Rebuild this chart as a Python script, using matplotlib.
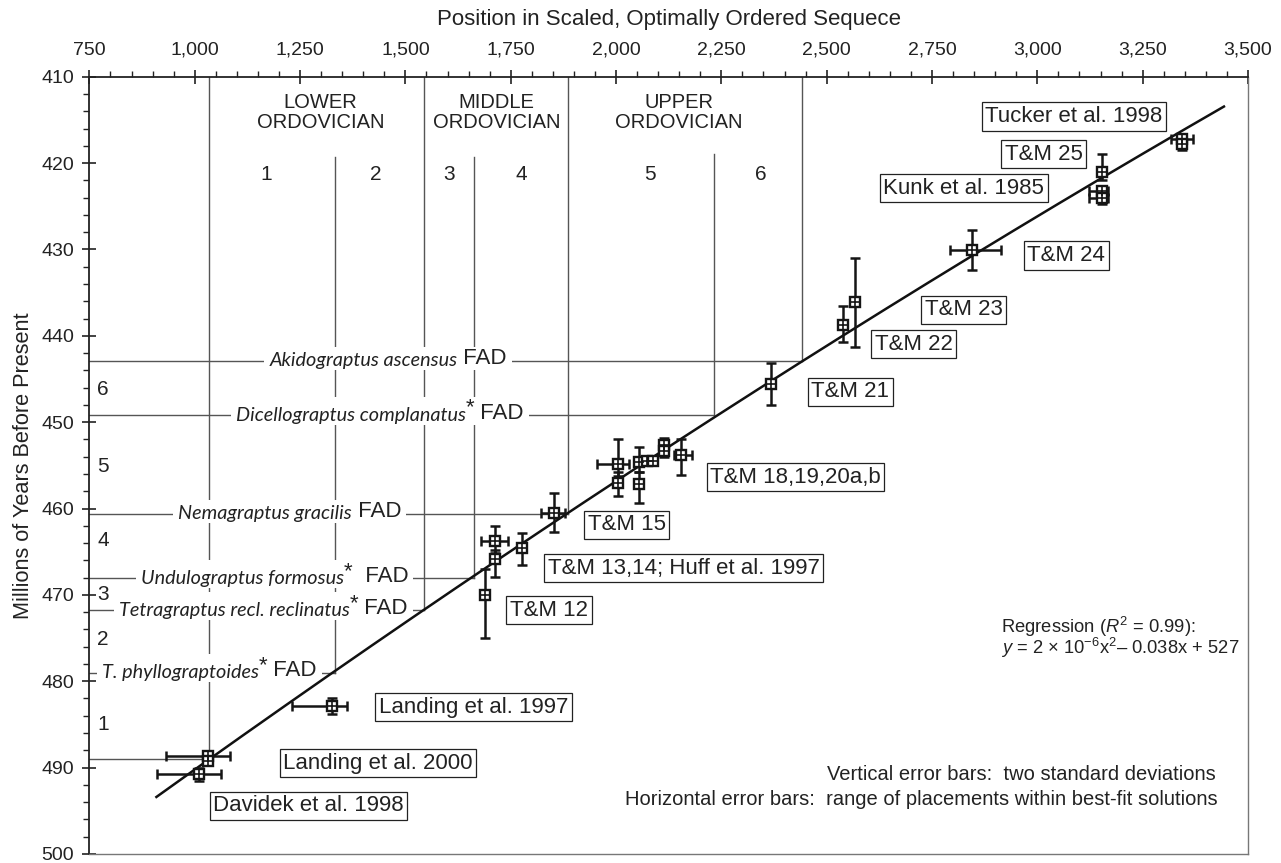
import numpy as np
import matplotlib
matplotlib.use("Agg")
import matplotlib.pyplot as plt
from matplotlib.ticker import MultipleLocator, FuncFormatter
from matplotlib.patches import Rectangle
from matplotlib.transforms import Bbox

plt.rcParams["font.family"] = ["Liberation Sans", "DejaVu Sans"]
plt.rcParams["mathtext.fontset"] = "custom"
plt.rcParams["mathtext.rm"] = "Liberation Sans"
plt.rcParams["mathtext.it"] = "Liberation Sans:italic"

# dated horizons: position in sequence, age (Ma) and error ranges
pt_x = [1011, 1032, 1032, 1327, 1688, 1713, 1713, 1776, 1853, 2004, 2004, 2055, 2055,
        2073, 2088, 2115, 2115, 2154, 2367, 2538, 2567, 2844, 3154, 3153, 3153, 3344, 3344]
pt_y = [490.7, 488.7, 489.2, 482.85, 470.0, 463.8, 465.8, 464.6, 460.5, 454.85, 457.0, 454.6, 457.2,
        454.5, 454.5, 452.6, 453.3, 453.8, 445.6, 438.7, 436.1, 430.1, 421.0, 423.2, 424.0, 417.2, 417.8]
x_lo = [911, 932, 1032, 1230, 1688, 1680, 1713, 1776, 1821, 1954, 2004, 2055, 2055,
        2073, 2088, 2115, 2115, 2138, 2367, 2538, 2567, 2793, 3154, 3122, 3122, 3317, 3344]
x_hi = [1062, 1084, 1032, 1361, 1688, 1744, 1713, 1776, 1878, 2031, 2004, 2055, 2055,
        2073, 2088, 2115, 2115, 2181, 2367, 2538, 2567, 2915, 3154, 3168, 3168, 3370, 3344]
y_lo = [490.0, 488.5, 489.2, 482.0, 467.0, 462.0, 464.8, 462.8, 458.2, 451.9, 455.8, 452.9, 455.8,
        454.5, 454.5, 451.8, 452.8, 452.0, 443.2, 436.6, 431.0, 427.7, 419.0, 422.6, 423.2, 416.6, 417.8]
y_hi = [491.6, 489.4, 489.2, 483.8, 475.0, 465.2, 467.9, 466.5, 462.7, 456.2, 458.5, 455.8, 459.4,
        454.5, 454.5, 453.3, 454.0, 456.1, 448.0, 440.7, 441.3, 432.4, 422.0, 424.0, 424.7, 418.5, 417.8]

# quadratic regression through the dates
reg_coef = [1.36e-6, -0.03747, 526.34]
reg_range = [909, 3443]

# source labels
src_text = ["Tucker et al. 1998", "T&M 25", "Kunk et al. 1985", "T&M 24", "T&M 23", "T&M 22",
            "T&M 21", "T&M 18,19,20a,b", "T&M 15", "T&M 13,14; Huff et al. 1997", "T&M 12",
            "Landing et al. 1997", "Landing et al. 2000", "Davidek et al. 1998"]
src_x = [3087, 3015, 2825, 3069, 2825, 2707, 2556, 2426, 2025, 2161, 1841, 1662, 1435, 1270]
src_y = [414.6, 419.0, 422.9, 430.7, 437.0, 441.0, 446.5, 456.4, 461.9, 466.9, 471.8, 483.0, 489.5, 494.4]

# FAD horizons and stage boundaries
fad_name = ["Akidograptus ascensus", "Dicellograptus complanatus", "Nemagraptus gracilis",
            "Undulograptus formosus", "Tetragraptus recl. reclinatus", "T. phyllograptoides", ""]
fad_star = [False, True, False, True, True, True, False]
fad_gap = [" FAD", " FAD", " FAD", "  FAD", " FAD", " FAD", ""]
fad_age = [442.9, 449.2, 460.6, 468.1, 471.8, 479.0, 489.0]
fad_label_x = [1177, 1097, 960, 872, 820, 779, 0]
bound_x = [2441, 2233, 1887, 1662, 1545, 1333, 1034]
bound_top = [410, 419.0, 410, 419.3, 410, 419.3, 410]

period_text = ["LOWER\nORDOVICIAN", "MIDDLE\nORDOVICIAN", "UPPER\nORDOVICIAN"]
period_x = [1299, 1717, 2150]
stage_top_text = ["1", "2", "3", "4", "5", "6"]
stage_top_x = [1169, 1429, 1604, 1776, 2081, 2344]
stage_side_text = ["6", "5", "4", "3", "2", "1"]
stage_side_y = [446.2, 455.1, 463.7, 470.0, 475.2, 485.0]

ink = "#222222"

fig = plt.figure(figsize=(12.81, 8.63), dpi=100)
ax = fig.add_axes([0.0698, 0.0105, 0.9044, 0.9006])
ax.set_xlim(750, 3500)
ax.set_ylim(500, 410)

ax.xaxis.tick_top()
ax.xaxis.set_label_position("top")
ax.xaxis.set_major_locator(MultipleLocator(250))
ax.xaxis.set_minor_locator(MultipleLocator(50))
ax.xaxis.set_major_formatter(FuncFormatter(lambda v, p: f"{int(v):,}"))
ax.yaxis.set_major_locator(MultipleLocator(10))
ax.yaxis.set_minor_locator(MultipleLocator(2))
ax.tick_params(which="major", direction="inout", length=10, width=1.2, labelsize=14, colors=ink)
ax.tick_params(which="minor", direction="out", length=4, width=1.0, colors=ink)
ax.tick_params(axis="x", which="major", pad=8)
ax.tick_params(axis="y", which="major", pad=6)
for s in ["top", "left"]:
    ax.spines[s].set_color(ink)
    ax.spines[s].set_linewidth(1.3)
for s in ["right", "bottom"]:
    ax.spines[s].set_color("#777777")
    ax.spines[s].set_linewidth(1.0)

ax.set_xlabel("Position in Scaled, Optimally Ordered Sequece", fontsize=16, color=ink)
ax.xaxis.set_label_coords(0.5, 1.066)
ax.set_ylabel("Millions of Years Before Present", fontsize=15.7, color=ink)
ax.yaxis.set_label_coords(-0.048, 0.5)

# boundary lines
for bx, top, age in zip(bound_x, bound_top, fad_age):
    ax.plot([bx, bx], [top, age], color="#555555", lw=1.0, zorder=2)
    ax.plot([750, bx], [age, age], color="#555555", lw=1.0, zorder=2)

# FAD labels built from italic name, star and FAD
groups = []
for name, star, gap, age, lx in zip(fad_name, fad_star, fad_gap, fad_age, fad_label_x):
    if not name:
        continue
    t1 = ax.text(lx, age, name, fontsize=14.3, family="Lato", style="italic",
                 ha="left", va="center", color=ink, zorder=3)
    parts = [t1]
    last = t1
    if star:
        t2 = ax.annotate("*", xy=(1, 0.3), xycoords=t1, ha="left", va="bottom",
                         fontsize=16, color=ink, zorder=3)
        parts.append(t2)
        last = t2
    t3 = ax.annotate(gap, xy=(1, 0), xycoords=(last, t1), ha="left", va="bottom",
                     fontsize=16, color=ink, zorder=3)
    parts.append(t3)
    groups.append(parts)

for txt, px in zip(period_text, period_x):
    ax.text(px, 414.1, txt, ha="center", va="center", fontsize=14.5, linespacing=1.05, color=ink)
for txt, sx in zip(stage_top_text, stage_top_x):
    ax.text(sx, 421.3, txt, ha="center", va="center", fontsize=15, color=ink)
for txt, sy in zip(stage_side_text, stage_side_y):
    ax.text(782, sy, txt, ha="center", va="center", fontsize=15, color=ink)

# regression curve
xr = np.linspace(reg_range[0], reg_range[1], 200)
ax.plot(xr, np.polyval(reg_coef, xr), color="#111111", lw=1.8, zorder=4)

# error bars and markers
px = np.array(pt_x, float)
py = np.array(pt_y, float)
xerr = [px - np.array(x_lo), np.array(x_hi) - px]
yerr = [py - np.array(y_lo), np.array(y_hi) - py]
ax.errorbar(px, py, xerr=xerr, yerr=yerr, fmt="none", ecolor="#151515",
            elinewidth=1.8, capsize=3.5, capthick=1.8, zorder=5)
ax.plot(px, py, "s", ms=6.5, mfc="white", mec="#151515", mew=1.7, zorder=6)
ax.plot(px, py, "+", ms=6.5, mew=1.2, color="#151515", zorder=7)

for txt, sx, sy in zip(src_text, src_x, src_y):
    ax.text(sx, sy, txt, ha="center", va="center", fontsize=16, color=ink, zorder=8,
            bbox=dict(boxstyle="square,pad=0.16", fc="white", ec=ink, lw=0.9))

ax.text(2913, 473.7, r"Regression ($R^2$ = 0.99):", ha="left", va="center", fontsize=13.2, color=ink)
ax.text(2913, 476.2, r"$y$ = 2 × 10$^{-6}$x$^2$– 0.038x + 527", ha="left", va="center",
        fontsize=13.2, color=ink)
ax.text(3424, 490.8, "Vertical error bars:  two standard deviations", ha="right", va="center",
        fontsize=14.5, color=ink)
ax.text(3429, 493.7, "Horizontal error bars:  range of placements within best-fit solutions",
        ha="right", va="center", fontsize=14.5, color=ink)

# white masks behind FAD labels so the lines break around them
fig.canvas.draw()
renderer = fig.canvas.get_renderer()
inv = ax.transData.inverted()
for parts in groups:
    bb = Bbox.union([p.get_window_extent(renderer) for p in parts])
    (x0, y0), (x1, y1) = inv.transform([[bb.x0 - 5, bb.y0 - 1], [bb.x1 + 5, bb.y1 + 1]])
    ax.add_patch(Rectangle((x0, y0), x1 - x0, y1 - y0, fc="white", ec="none", zorder=2.5))

fig.savefig("out.png", dpi=100)
